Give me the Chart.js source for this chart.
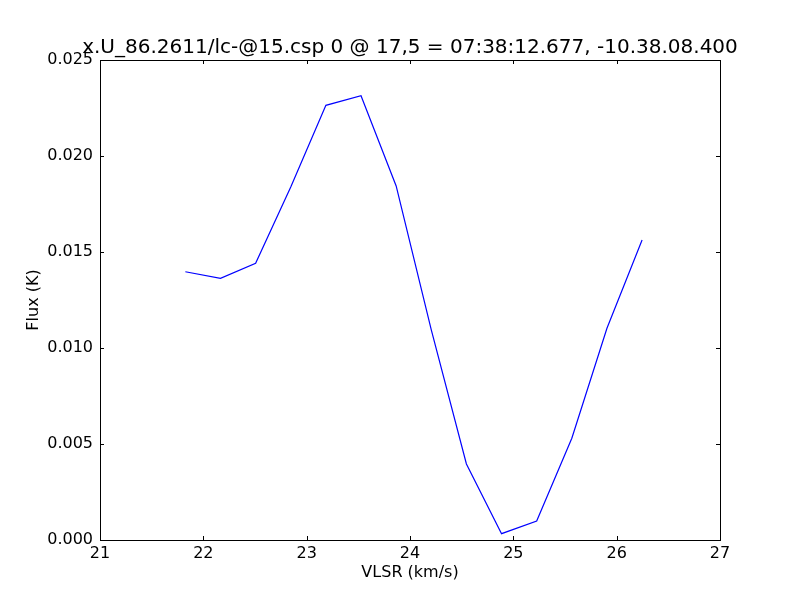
<html>
<head>
<script src="https://cdn.jsdelivr.net/npm/chart.js@4.4.0/dist/chart.umd.min.js"></script>
<style>
  body { margin: 0; background: white; }
  canvas { display: block; }
</style>
</head>
<body>
<div style="width:800px;height:600px;">
  <canvas id="spectrum" width="800" height="600"></canvas>
</div>
<script>
  // spectrum
  var velocity = [21.826, 22.166, 22.506, 22.846, 23.186, 23.526, 23.866,
                  24.206, 24.546, 24.886, 25.226, 25.566, 25.906, 26.246];
  var flux = [0.01397, 0.01363, 0.01441, 0.01839, 0.02264, 0.02314, 0.01844,
              0.01094, 0.00396, 0.00033, 0.00099, 0.00530, 0.01103, 0.01563];

  var titleText = "x.U_86.2611/lc-@15.csp 0 @ 17,5 = 07:38:12.677, -10.38.08.400";
  var xLabel = "VLSR (km/s)";
  var yLabel = "Flux (K)";

  var points = velocity.map(function(v, i) { return { x: v, y: flux[i] }; });

  // frame and inward ticks on all four sides, like matplotlib
  var framePlugin = {
    id: "frame",
    afterDraw: function(chart) {
      var ctx = chart.ctx;
      var a = chart.chartArea;
      var xs = chart.scales.x, ys = chart.scales.y;
      ctx.save();
      ctx.strokeStyle = "black";
      ctx.lineWidth = 1;
      ctx.beginPath();
      xs.ticks.forEach(function(t) {
        var px = Math.round(xs.getPixelForValue(t.value)) + 0.5;
        ctx.moveTo(px, a.bottom); ctx.lineTo(px, a.bottom - 4);
        ctx.moveTo(px, a.top); ctx.lineTo(px, a.top + 4);
      });
      ys.ticks.forEach(function(t) {
        var py = Math.round(ys.getPixelForValue(t.value)) + 0.5;
        ctx.moveTo(a.left, py); ctx.lineTo(a.left + 4, py);
        ctx.moveTo(a.right, py); ctx.lineTo(a.right - 4, py);
      });
      ctx.stroke();
      ctx.strokeRect(Math.round(a.left) + 0.5, Math.round(a.top) + 0.5,
                     Math.round(a.right - a.left), Math.round(a.bottom - a.top));
      ctx.restore();
    }
  };

  var chart = new Chart(document.getElementById("spectrum"), {
    type: "line",
    data: {
      datasets: [{
        data: points,
        borderColor: "#0000ff",
        borderWidth: 1.2,
        pointRadius: 0,
        fill: false,
        tension: 0
      }]
    },
    options: {
      responsive: false,
      animation: false,
      // left padding 20 so the title box (20..800) centres over the plot
      layout: { padding: { left: 20, right: 0, top: 0, bottom: 0 } },
      plugins: {
        legend: { display: false },
        tooltip: { enabled: false },
        title: {
          display: true,
          text: titleText,
          color: "black",
          font: { family: "DejaVu Sans", size: 20, weight: "normal", lineHeight: 1.1 },
          padding: { top: 37, bottom: 1 }
        }
      },
      scales: {
        x: {
          type: "linear",
          min: 21, max: 27,
          grid: { display: false, drawTicks: false },
          border: { display: false },
          ticks: {
            stepSize: 1, padding: 4, color: "black",
            font: { family: "DejaVu Sans", size: 16 },
            maxRotation: 0
          },
          title: {
            display: true, text: xLabel, color: "black",
            font: { family: "DejaVu Sans", size: 16 },
            padding: { top: 0, bottom: 18 }
          },
          afterFit: function(s) { s.height = 60; }
        },
        y: {
          type: "linear",
          min: 0, max: 0.025,
          grid: { display: false, drawTicks: false },
          border: { display: false },
          ticks: {
            stepSize: 0.005, padding: 7, color: "black",
            font: { family: "DejaVu Sans", size: 16 },
            callback: function(v) { return v.toFixed(3); }
          },
          title: {
            display: true, text: yLabel, color: "black",
            font: { family: "DejaVu Sans", size: 16 },
            padding: { top: 4.4, bottom: 0 }
          },
          afterFit: function(s) { s.width = 80; }
        },
        // empty right axis, only reserves the right margin
        yRight: {
          type: "linear",
          position: "right",
          min: 0, max: 0.025,
          grid: { display: false, drawTicks: false },
          border: { display: false },
          ticks: { display: false },
          afterFit: function(s) { s.width = 80; }
        }
      }
    },
    plugins: [framePlugin]
  });
</script>
</body>
</html>
